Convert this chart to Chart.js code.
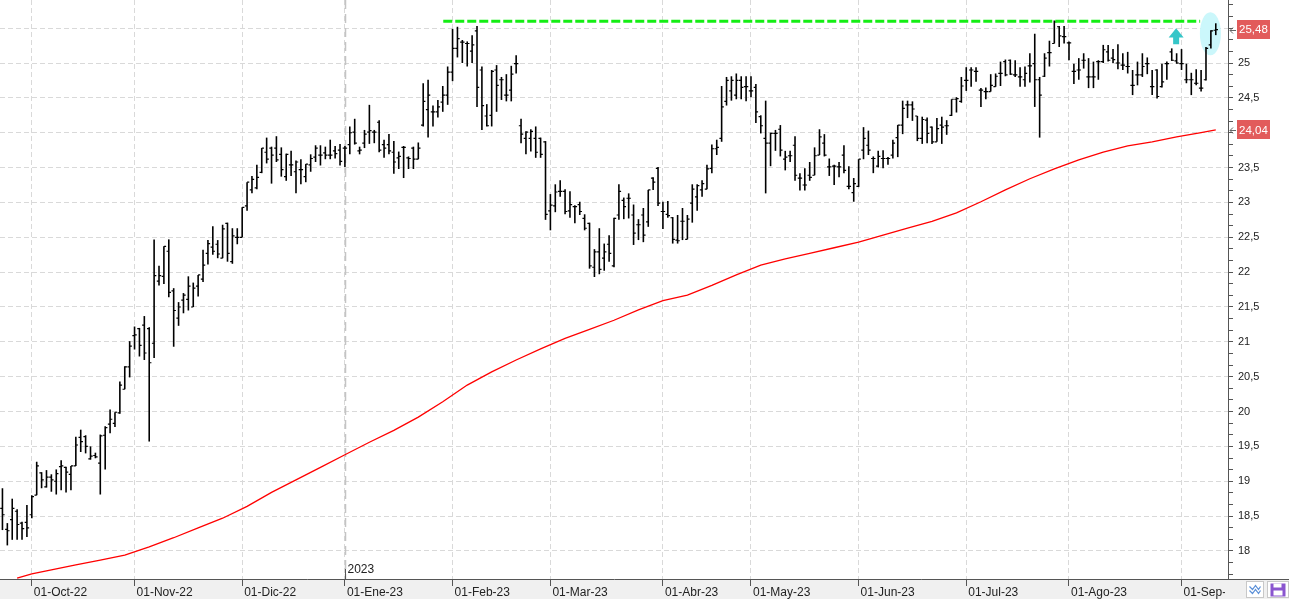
<!DOCTYPE html>
<html><head><meta charset="utf-8">
<script src="https://cdn.jsdelivr.net/npm/chart.js@4.4.0/dist/chart.umd.min.js"></script>
<style>html,body{margin:0;padding:0;background:#fff;overflow:hidden}canvas{display:block}</style>
</head><body>
<canvas id="c" width="1289" height="599"></canvas>
<script>
// ---- data (daily OHLC, trading-day index 0 = 23-Sep-22) ----
const monthLabels = ['01-Oct-22','01-Nov-22','01-Dic-22','01-Ene-23','01-Feb-23','01-Mar-23','01-Abr-23','01-May-23','01-Jun-23','01-Jul-23','01-Ago-23','01-Sep-23'];
const monthStart = [6,27,49,70,92,112,135,153,175,197,218,241];
const yearLabel = '2023';
const yearIndex = 70;
const slotCount = 251;

const open = [
18.61,18.31,18.45,18.57,18.40,18.41,18.52,18.80,19.12,18.92,
19.06,19.00,19.21,19.20,19.10,19.22,19.63,19.64,19.32,19.37,
19.26,19.66,19.82,19.83,19.98,20.32,20.64,21.09,21.19,21.24,
21.19,20.98,21.87,21.94,22.30,21.73,21.34,21.60,21.61,21.50,
21.80,21.90,22.27,22.36,22.40,22.20,22.70,22.15,22.50,22.50,
22.95,23.18,23.21,23.43,23.72,23.78,23.78,23.69,23.37,23.54,
23.44,23.47,23.37,23.54,23.65,23.68,23.71,23.68,23.74,23.75,
23.78,23.83,24.01,23.74,23.85,24.01,24.01,24.15,23.83,23.83,
23.72,23.64,23.79,23.64,23.78,23.62,24.11,24.33,24.30,24.30,
24.44,24.54,24.87,25.21,25.30,25.28,25.17,25.46,24.90,24.24,
24.25,24.90,24.76,24.54,24.61,24.99,24.10,23.92,23.92,23.92,
23.92,23.87,22.88,22.95,23.16,23.16,22.88,22.94,22.97,22.77,
22.70,22.07,22.29,22.20,22.40,22.09,22.82,23.03,23.06,22.82,
22.68,22.82,22.72,23.35,23.49,22.87,22.83,22.78,22.46,22.73,
22.47,22.99,23.08,23.18,23.19,23.49,23.77,23.92,24.45,24.60,
24.54,24.75,24.66,24.60,24.65,24.23,23.92,23.85,23.99,24.05,
23.62,23.67,23.82,23.35,23.25,23.39,23.39,23.68,23.85,23.51,
23.52,23.51,23.68,23.23,23.14,23.23,23.75,23.82,23.63,23.52,
23.63,23.63,23.68,23.93,24.11,24.40,24.40,24.24,23.92,24.18,
24.08,23.87,24.11,24.10,24.25,24.48,24.45,24.75,24.90,24.88,
24.61,24.59,24.59,24.66,24.85,25.02,25.04,24.83,24.80,24.76,
24.96,24.99,24.76,24.81,25.15,25.28,25.52,25.38,25.29,24.88,
24.90,25.04,24.80,24.80,25.02,25.02,25.16,25.07,25.00,24.97,
24.95,24.68,24.83,24.83,24.99,24.66,24.90,24.66,24.99,25.16,
25.03,24.99,24.76,24.76,24.71,24.64,24.76,25.26,25.47];

const high = [
18.90,18.40,18.75,18.60,18.42,18.66,18.80,19.28,19.13,19.16,
19.10,19.17,19.30,19.21,19.22,19.64,19.74,19.66,19.50,19.41,
19.67,19.79,20.03,19.99,20.43,20.65,21.01,21.22,21.20,21.37,
21.21,22.47,22.09,22.37,22.47,21.77,21.57,21.70,21.94,21.85,
21.96,22.32,22.46,22.66,22.46,22.68,22.71,22.63,22.63,22.93,
23.29,23.38,23.54,23.78,23.93,23.80,23.95,23.79,23.70,23.74,
23.60,23.62,23.55,23.69,23.82,23.82,23.80,23.90,23.81,23.84,
23.81,24.09,24.20,23.80,24.04,24.40,24.04,24.18,23.90,23.98,
23.88,23.73,23.81,23.66,23.80,23.86,24.71,24.76,24.39,24.47,
24.67,24.95,25.49,25.52,25.33,25.31,25.40,25.53,24.95,24.41,
24.90,24.97,24.80,24.84,24.96,25.11,24.20,24.02,24.05,24.09,
23.93,23.88,23.12,23.26,23.32,23.19,23.16,22.96,23.01,22.83,
22.71,22.33,22.63,22.41,22.53,22.78,23.26,23.07,23.13,22.97,
22.76,22.92,23.18,23.36,23.51,23.01,23.02,22.79,22.82,22.92,
22.82,23.26,23.26,23.32,23.54,23.83,23.90,24.67,24.80,24.81,
24.85,24.81,24.81,24.81,24.70,24.25,24.46,24.00,24.04,24.11,
23.74,23.74,23.95,23.42,23.49,23.58,23.79,24.05,23.98,23.63,
23.54,23.58,23.82,23.52,23.35,23.62,24.08,24.03,23.66,23.74,
23.75,23.65,23.90,24.11,24.46,24.46,24.45,24.24,24.23,24.22,
24.09,24.21,24.23,24.18,24.48,24.51,24.80,24.94,24.94,24.94,
24.64,24.65,24.84,24.85,25.02,25.05,25.05,25.04,24.94,24.95,
25.14,25.42,24.80,25.14,25.32,25.61,25.53,25.53,25.31,24.99,
25.07,25.14,25.07,25.02,25.04,25.26,25.26,25.20,25.27,25.14,
25.16,24.90,25.02,25.14,25.08,24.90,24.91,24.99,25.02,25.21,
25.14,25.20,24.99,24.86,24.91,24.90,25.23,25.47,25.57];

const low = [
18.30,18.08,18.16,18.16,18.16,18.20,18.47,18.80,18.90,18.91,
18.85,18.81,18.87,18.84,18.87,19.22,19.42,19.40,19.31,19.33,
18.81,19.17,19.69,19.78,19.97,20.32,20.49,20.89,20.79,20.74,
19.57,20.77,21.81,21.83,21.64,20.93,21.23,21.41,21.45,21.50,
21.65,21.86,22.11,22.25,22.20,22.20,22.15,22.12,22.40,22.50,
22.88,23.13,23.19,23.42,23.56,23.27,23.58,23.37,23.31,23.38,
23.13,23.26,23.29,23.44,23.58,23.53,23.62,23.62,23.63,23.53,
23.51,23.69,23.83,23.69,23.78,23.84,23.85,23.72,23.64,23.69,
23.41,23.48,23.35,23.48,23.48,23.62,24.09,23.93,24.09,24.22,
24.30,24.40,24.74,25.08,25.00,24.95,25.00,24.37,24.04,24.09,
24.09,24.30,24.47,24.45,24.45,24.85,23.85,23.69,23.73,23.64,
23.64,22.75,22.60,22.86,23.08,22.83,22.78,22.70,22.82,22.60,
22.05,21.93,21.97,22.02,22.15,22.07,22.75,22.76,22.77,22.39,
22.46,22.43,22.65,23.18,22.95,22.62,22.78,22.41,22.41,22.46,
22.47,22.71,22.88,23.08,23.19,23.42,23.68,23.87,24.39,24.46,
24.48,24.48,24.45,24.51,24.14,23.99,23.13,23.52,23.74,23.66,
23.46,23.58,23.31,23.17,23.17,23.31,23.39,23.68,23.66,23.38,
23.25,23.36,23.42,23.19,23.01,23.22,23.62,23.68,23.42,23.50,
23.49,23.54,23.63,23.65,23.98,24.21,24.17,23.88,23.84,23.85,
23.84,23.87,23.84,23.97,24.24,24.29,24.43,24.60,24.66,24.73,
24.37,24.48,24.59,24.66,24.67,24.81,24.83,24.80,24.66,24.66,
24.72,24.37,23.93,24.80,24.95,25.28,25.23,25.28,25.04,24.70,
24.76,24.92,24.64,24.64,24.76,25.00,25.02,25.00,24.91,24.90,
24.85,24.54,24.68,24.80,24.84,24.54,24.49,24.65,24.76,25.03,
24.99,24.90,24.71,24.54,24.68,24.59,24.75,25.21,25.40];

const close = [
18.52,18.29,18.61,18.38,18.32,18.33,18.78,19.22,19.02,19.06,
19.02,19.11,19.22,19.13,19.22,19.52,19.57,19.50,19.36,19.35,
19.65,19.77,19.89,19.99,20.38,20.64,20.94,21.10,20.95,20.84,
20.70,21.95,21.95,22.37,21.71,21.45,21.50,21.67,21.80,21.77,
21.96,22.10,22.41,22.30,22.26,22.62,22.27,22.52,22.50,22.93,
23.29,23.33,23.36,23.78,23.62,23.68,23.61,23.47,23.69,23.54,
23.58,23.47,23.55,23.63,23.78,23.68,23.68,23.68,23.70,23.59,
23.78,24.00,23.85,23.75,23.98,24.03,24.01,23.75,23.78,23.74,
23.58,23.66,23.79,23.63,23.62,23.78,24.45,24.54,24.30,24.37,
24.54,24.87,25.21,25.35,25.30,25.28,25.26,24.65,24.39,24.10,
24.88,24.68,24.76,24.54,24.84,24.99,23.98,24.01,24.02,23.72,
23.69,22.83,22.96,23.15,23.16,22.87,22.97,22.94,22.87,22.63,
22.09,22.29,22.04,22.29,22.27,22.77,23.16,22.94,23.06,22.56,
22.68,22.53,23.18,23.29,22.99,22.87,22.81,22.47,22.45,22.73,
22.76,23.19,23.24,23.27,23.48,23.77,23.79,24.37,24.75,24.75,
24.75,24.65,24.66,24.60,24.30,24.10,23.85,23.99,23.99,23.75,
23.65,23.67,23.39,23.35,23.25,23.36,23.67,23.94,23.68,23.51,
23.52,23.51,23.46,23.23,23.27,23.62,23.92,23.75,23.63,23.66,
23.63,23.63,23.85,24.11,24.35,24.40,24.34,23.92,24.19,23.99,
23.87,24.06,24.08,24.10,24.48,24.49,24.67,24.75,24.90,24.88,
24.61,24.59,24.68,24.81,24.85,24.83,24.84,24.83,24.80,24.85,
24.96,24.76,24.54,25.07,25.15,25.59,25.39,25.38,25.29,24.88,
24.90,25.04,24.80,24.80,25.02,25.19,25.04,25.05,25.00,24.97,
24.95,24.68,24.83,24.95,24.99,24.66,24.52,24.73,24.99,25.04,
25.00,24.99,24.76,24.76,24.71,24.64,25.21,25.46,25.48];

// moving average (red line), read at these trading-day indices
const maIndex = [3,6,10,15,20,25,30,35,40,45,50,55,60,65,70,75,80,85,90,95,100,105,110,115,120,125,130,135,140,145,150,155,160,165,170,175,180,185,190,195,200,205,210,215,220,225,230,235,240,245,248];
const maValue = [17.61,17.67,17.73,17.80,17.87,17.94,18.06,18.19,18.33,18.47,18.64,18.84,19.02,19.20,19.38,19.56,19.73,19.92,20.14,20.38,20.57,20.74,20.90,21.05,21.18,21.31,21.46,21.59,21.67,21.81,21.96,22.10,22.19,22.27,22.35,22.43,22.53,22.63,22.73,22.85,23.01,23.18,23.34,23.48,23.61,23.72,23.81,23.87,23.94,24.00,24.04];

// annotations
const resistanceLevel = 25.60;
const resistanceSpan = [90.1, 244.8];
const arrowIndex = 239.9;
const arrowTipBase = [25.50, 25.27];
const highlightCenter = [246.9, 25.42];
const highlightRadius = [2.15, 0.31];

const yRange = [17.598, 25.904];
const yMinorPerUnit = 6;

const FONT = '"Liberation Sans", Arial, sans-serif';
const isHalf = v => Math.abs(v * 2 - Math.round(v * 2)) < 1e-7;
const fmtNum = v => String(Math.round(v * 100) / 100).replace('.', ',');
const fmt2 = v => v.toFixed(2).replace('.', ',');

const hlData = high.map((h, i) => ({x: i, y: [low[i], h]}));
const ocData = [];
open.forEach((o, i) => {
  ocData.push({x: i - 0.45, y: o}, {x: i, y: o}, {x: i, y: null},
              {x: i, y: close[i]}, {x: i + 0.45, y: close[i]}, {x: i + 0.45, y: null});
});
const maData = maIndex.map((x, k) => ({x, y: maValue[k]}));
const resData = resistanceSpan.map(x => ({x, y: resistanceLevel}));

const decor = {
  id: 'decor',
  beforeDraw(chart) {
    const {ctx, width, height, chartArea: a} = chart;
    ctx.save();
    ctx.fillStyle = '#ffffff'; ctx.fillRect(0, 0, width, height);
    ctx.fillStyle = '#f0f0f0'; ctx.fillRect(0, a.bottom, width, height - a.bottom);
    ctx.restore();
  },
  beforeDatasetsDraw(chart) {
    const {ctx, chartArea: a, scales: {x, y}} = chart;
    ctx.save();
    const xp = Math.round(x.getPixelForValue(yearIndex)) + 0.5;
    ctx.strokeStyle = '#c4c4c4'; ctx.lineWidth = 1.5; ctx.setLineDash([9, 5]);
    ctx.beginPath(); ctx.moveTo(xp, a.top); ctx.lineTo(xp, a.bottom); ctx.stroke();
    ctx.setLineDash([]);
    const cx = x.getPixelForValue(highlightCenter[0]);
    const cy = y.getPixelForValue(highlightCenter[1]);
    const rx = Math.abs(x.getPixelForValue(highlightCenter[0] + highlightRadius[0]) - cx);
    const ry = Math.abs(y.getPixelForValue(highlightCenter[1] + highlightRadius[1]) - cy);
    ctx.fillStyle = '#cbf7fb';
    ctx.beginPath(); ctx.ellipse(cx, cy, rx, ry, 0, 0, Math.PI * 2); ctx.fill();
    ctx.restore();
  },
  afterDraw(chart) {
    const {ctx, width, height, chartArea: a, scales: {x, y}} = chart;
    ctx.save();
    // clip x labels under the price axis area
    ctx.fillStyle = '#f0f0f0';
    ctx.fillRect(a.right - 3, a.bottom + 1, width - a.right + 3, height - a.bottom - 1);
    ctx.fillStyle = '#555';
    ctx.fillRect(a.right, Math.round(a.bottom), width - a.right, 1);

    // year marker
    const xp = Math.round(x.getPixelForValue(yearIndex)) + 0.5;
    ctx.strokeStyle = '#555'; ctx.lineWidth = 1;
    ctx.beginPath(); ctx.moveTo(xp, a.bottom - 10); ctx.lineTo(xp, a.bottom); ctx.stroke();
    ctx.fillStyle = '#222'; ctx.font = '12px ' + FONT; ctx.textBaseline = 'middle'; ctx.textAlign = 'left';
    ctx.fillText(yearLabel, xp + 2, a.bottom - 9);

    // up arrow
    const ax = x.getPixelForValue(arrowIndex);
    const tip = y.getPixelForValue(arrowTipBase[0]);
    const base = y.getPixelForValue(arrowTipBase[1]);
    const headH = (base - tip) * 0.58;
    ctx.fillStyle = '#36c6c8';
    ctx.beginPath();
    ctx.moveTo(ax, tip); ctx.lineTo(ax + 7.5, tip + headH); ctx.lineTo(ax + 3, tip + headH);
    ctx.lineTo(ax + 3, base); ctx.lineTo(ax - 3, base); ctx.lineTo(ax - 3, tip + headH);
    ctx.lineTo(ax - 7.5, tip + headH); ctx.closePath(); ctx.fill();

    // last value labels
    const tags = [close[close.length - 1], maValue[maValue.length - 1]];
    tags.forEach(v => {
      const py = y.getPixelForValue(v);
      ctx.fillStyle = '#e25b5b';
      ctx.fillRect(a.right + 9, Math.round(py - 9.5), 33, 19);
      ctx.fillStyle = '#ffffff'; ctx.font = '11.5px ' + FONT; ctx.textBaseline = 'middle';
      ctx.fillText(fmt2(v), a.right + 11, py + 0.5);
      ctx.strokeStyle = '#666'; ctx.lineWidth = 1;
      const yy = Math.round(py) + 0.5;
      ctx.beginPath();
      ctx.moveTo(a.right + 2, yy); ctx.lineTo(a.right + 8, yy);
      ctx.moveTo(a.right + 5, yy - 3); ctx.lineTo(a.right + 2, yy); ctx.lineTo(a.right + 5, yy + 3);
      ctx.stroke();
    });

    // small toolbar icons bottom-right
    const b1 = {x: 1246.5, y: 581.5, w: 17, h: 16};
    ctx.fillStyle = '#ffffff'; ctx.fillRect(b1.x, b1.y, b1.w, b1.h);
    ctx.strokeStyle = '#c8c8c8'; ctx.strokeRect(b1.x, b1.y, b1.w, b1.h);
    ctx.strokeStyle = '#5a8fd8'; ctx.lineWidth = 1.2;
    [0, 4].forEach(d => {
      ctx.beginPath();
      ctx.moveTo(b1.x + 3, b1.y + 5 + d); ctx.lineTo(b1.x + 6, b1.y + 8 + d); ctx.lineTo(b1.x + 9, b1.y + 4 + d);
      ctx.lineTo(b1.x + 12, b1.y + 8 + d); ctx.lineTo(b1.x + 14, b1.y + 5 + d); ctx.stroke();
    });
    const b2 = {x: 1267.5, y: 581.5, w: 21, h: 16};
    ctx.fillStyle = '#ffffff'; ctx.fillRect(b2.x, b2.y, b2.w, b2.h);
    ctx.strokeStyle = '#c8c8c8'; ctx.lineWidth = 1; ctx.strokeRect(b2.x, b2.y, b2.w, b2.h);
    ctx.fillStyle = '#8a55cf'; ctx.fillRect(b2.x + 3, b2.y + 2, 15, 13);
    ctx.fillStyle = '#ffffff'; ctx.fillRect(b2.x + 6, b2.y + 2, 8, 4);
    ctx.fillStyle = '#ffffff'; ctx.fillRect(b2.x + 6, b2.y + 9, 9, 5);
    ctx.restore();
  }
};

new Chart(document.getElementById('c').getContext('2d'), {
  type: 'bar',
  data: {
    datasets: [
      {type: 'line', data: resData, borderColor: '#14ee14', borderWidth: 3, borderDash: [9, 3], pointRadius: 0, order: 0},
      {type: 'line', data: ocData, borderColor: '#000', borderWidth: 1.2, pointRadius: 0, spanGaps: false, borderCapStyle: 'butt', order: 1},
      {type: 'bar', data: hlData, backgroundColor: '#000', barThickness: 1.6, inflateAmount: 0, grouped: false, order: 2},
      {type: 'line', data: maData, borderColor: '#ff0000', borderWidth: 1.3, pointRadius: 0, tension: 0, order: 3}
    ]
  },
  options: {
    responsive: false, animation: false, devicePixelRatio: 1, events: [],
    layout: {padding: 0},
    plugins: {legend: {display: false}, tooltip: {enabled: false}},
    scales: {
      x: {
        type: 'linear', min: -0.5, max: slotCount - 0.5, offset: false,
        afterBuildTicks: s => { s.ticks = monthStart.map(v => ({value: v})); },
        afterFit: s => { s.height = 20; s.paddingLeft = 0; s.paddingRight = 0; },
        ticks: {autoSkip: false, maxRotation: 0, minRotation: 0, align: 'start', labelOffset: 2, padding: -1,
                color: '#222', font: {family: FONT, size: 12},
                callback: v => monthLabels[monthStart.indexOf(v)]},
        grid: {color: '#d9d9d9', lineWidth: 1, tickLength: 7, tickColor: '#555', offset: false},
        border: {color: '#555', width: 1, dash: [5, 3]}
      },
      y: {
        type: 'linear', position: 'right', min: yRange[0], max: yRange[1],
        afterBuildTicks: s => {
          const t = [];
          for (let k = Math.ceil(yRange[0] * yMinorPerUnit); k <= Math.floor(yRange[1] * yMinorPerUnit); k++) t.push({value: k / yMinorPerUnit});
          s.ticks = t;
        },
        afterFit: s => { s.width = 61; s.paddingTop = 0; s.paddingBottom = 0; },
        ticks: {autoSkip: false, padding: 5, color: '#222', font: {family: FONT, size: 11},
                callback: v => isHalf(v) ? fmtNum(v) : ''},
        grid: {color: c => (c.tick && isHalf(c.tick.value)) ? '#d9d9d9' : 'rgba(0,0,0,0)', tickLength: 5, tickColor: '#555'},
        border: {color: '#555', width: 1, dash: [5, 3]}
      }
    }
  },
  plugins: [decor]
});
</script>
</body></html>
